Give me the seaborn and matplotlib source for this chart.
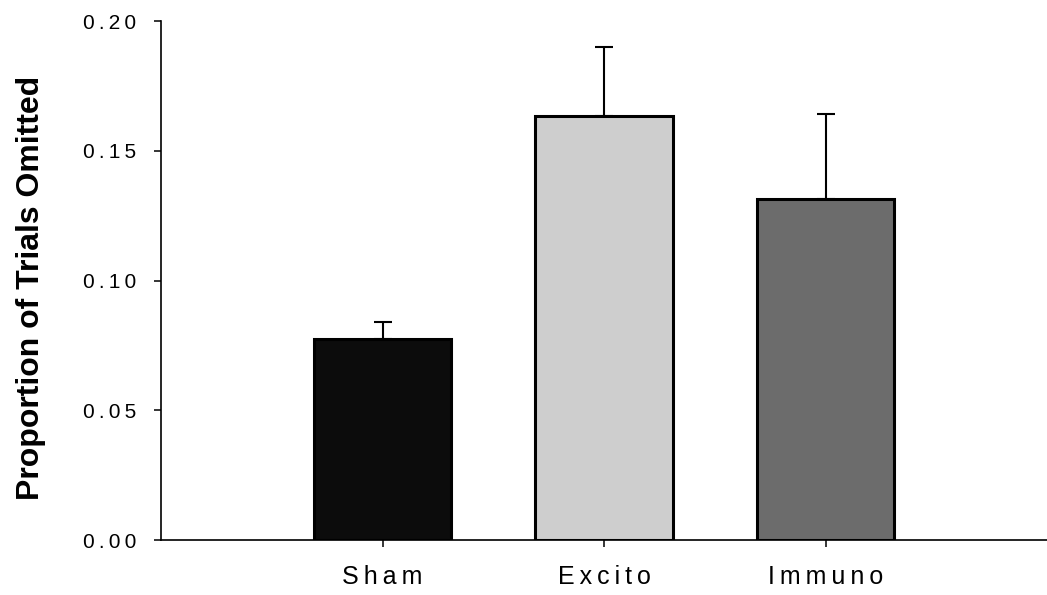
import matplotlib
matplotlib.use("Agg")
import matplotlib.pyplot as plt
import numpy as np
import pandas as pd
import seaborn as sns

GROUPS = ["Sham", "Excito", "Immuno"]
MEANS = [0.0775, 0.1634, 0.1314]
SEM = [0.0065, 0.0266, 0.0326]
BAR_COLORS = ["#0c0c0c", "#cecece", "#6c6c6c"]
Y_TICKS = [0.00, 0.05, 0.10, 0.15, 0.20]
Y_TICK_LABELS = ["0.00", "0.05", "0.10", "0.15", "0.20"]


def spaced(text):
    # the original uses loose letter spacing on tick labels
    return "\u2009".join(text)


sns.set_style("ticks")
plt.rcParams["font.family"] = ["Liberation Sans", "DejaVu Sans"]
plt.rcParams["text.color"] = "black"
plt.rcParams["axes.labelcolor"] = "black"
plt.rcParams["xtick.color"] = "black"
plt.rcParams["ytick.color"] = "black"

df = pd.DataFrame({"group": GROUPS, "prop": MEANS})

fig = plt.figure(figsize=(10.47, 5.95), dpi=100)
ax = fig.add_axes([0.1538, 0.0924, 0.8462, 0.8723])

sns.barplot(
    data=df,
    x="group",
    y="prop",
    hue="group",
    palette=BAR_COLORS,
    order=GROUPS,
    hue_order=GROUPS,
    width=0.62,
    errorbar=None,
    edgecolor="black",
    linewidth=2.2,
    legend=False,
    ax=ax,
)

xpos = np.arange(len(GROUPS))
ax.errorbar(
    xpos,
    MEANS,
    yerr=[np.zeros(len(SEM)), SEM],
    fmt="none",
    ecolor="black",
    elinewidth=1.5,
    capsize=6.5,
    capthick=1.5,
    zorder=1,
)

ax.set_xlim(-1.0, 3.0)
ax.set_ylim(0, 0.20)
ax.set_yticks(Y_TICKS)
ax.set_yticklabels([spaced(t) for t in Y_TICK_LABELS])
ax.set_xticks(xpos)
ax.set_xticklabels([spaced(g) for g in GROUPS])
ax.set_xlabel("")
ax.set_ylabel("Proportion of Trials Omitted", fontsize=23, fontweight="bold")
ax.yaxis.set_label_coords(-0.13, 0.486)

ax.tick_params(axis="y", direction="out", length=5, width=1.1, labelsize=15, pad=13)
ax.tick_params(axis="x", direction="out", length=5, width=1.1, labelsize=18, pad=13)

sns.despine(ax=ax)
for side in ["left", "bottom"]:
    ax.spines[side].set_linewidth(1.2)
    ax.spines[side].set_color("black")

fig.savefig("out.png", dpi=100)
